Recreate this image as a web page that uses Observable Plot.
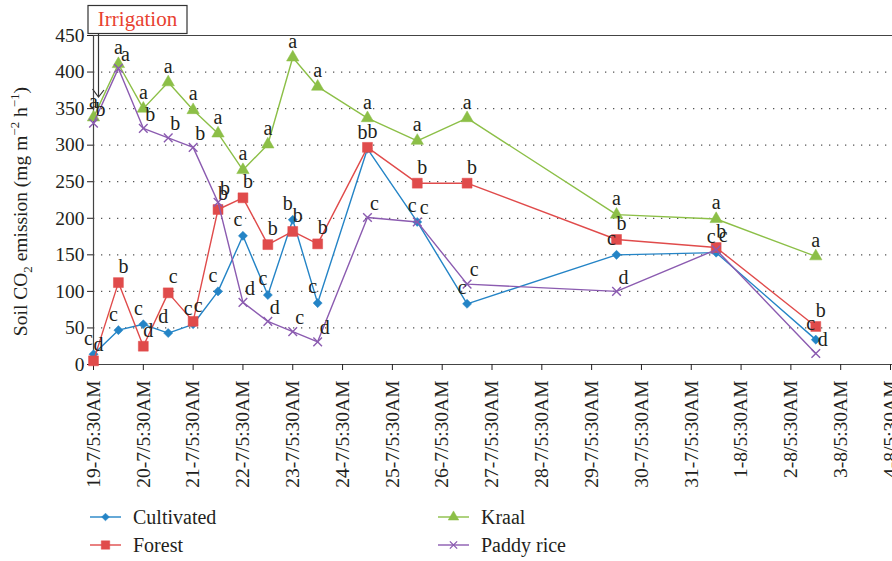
<!DOCTYPE html>
<html><head><meta charset="utf-8">
<style>
html,body{margin:0;padding:0;background:#fff;overflow:hidden;font-family:'Liberation Serif',serif;}
svg, svg text, svg tspan, .leg, .leg span {font-family:'Liberation Serif',serif !important;}
#wrap{position:relative;width:892px;height:561px;color:#231f20;}
#chart svg{display:block;}
.leg{position:absolute;display:flex;align-items:center;font-size:20px;white-space:nowrap;}
.leg svg{margin-right:12px;}
</style>
<script src="https://cdn.jsdelivr.net/npm/d3@7"></script>
<script src="https://cdn.jsdelivr.net/npm/@observablehq/plot@0.6"></script>
</head><body>
<div id="wrap"><div id="chart"></div><div id="legend"></div></div>
<script>
// ---- data ----
const tickLabels = ["19-7/5:30AM","20-7/5:30AM","21-7/5:30AM","22-7/5:30AM","23-7/5:30AM","24-7/5:30AM","25-7/5:30AM","26-7/5:30AM","27-7/5:30AM","28-7/5:30AM","29-7/5:30AM","30-7/5:30AM","31-7/5:30AM","1-8/5:30AM","2-8/5:30AM","3-8/5:30AM","4-8/5:30AM"];
const yTicks = [0,50,100,150,200,250,300,350,400,450];
const times = ["19-7/5:30AM","19-7/5:30PM","20-7/5:30AM","20-7/5:30PM","21-7/5:30AM","21-7/5:30PM","22-7/5:30AM","22-7/5:30PM","23-7/5:30AM","23-7/5:30PM","24-7/5:30PM","25-7/5:30PM","26-7/5:30PM","29-7/5:30PM","31-7/5:30PM","2-8/5:30PM"];
const seriesNames = ["Cultivated","Forest","Kraal","Paddy rice"];
const cultivated = [14, 47, 55, 43, 55, 100, 176, 95, 198, 84, 295, 195, 83, 150, 153, 34];
const forest     = [5, 112, 25, 98, 59, 212, 228, 164, 182, 165, 297, 248, 248, 171, 160, 52];
const kraal      = [338, 411, 350, 386, 348, 316, 266, 301, 420, 380, 337, 306, 337, 205, 199, 148];
const paddyRice  = [330, 405, 323, 310, 297, 222, 85, 59, 45, 31, 201, 195, 110, 100, 157, 15];
const cultivatedLetters = ["c","c","c","d","c","c","c","c","b","c","b","c","c","c","c","c"];
const forestLetters     = ["d","b","d","c","c","b","b","b","b","b","b","b","b","b","b","b"];
const kraalLetters      = ["a","a","a","a","a","a","a","a","a","a","a","a","a","a","a","a"];
const paddyRiceLetters  = ["b","a","b","b","b","b","d","d","c","d","c","c","c","d","c","d"];

// ---- styling ----
const colors = ["#2484c6","#e04b4b","#8cbf47","#8b5bb0"];
const symbols = ["diamond2","square","triangle","times"];
const radii = [4.1, 5.6, 4.6, 4];
const labelDx = [-5, 5, 0, 7];
const labelDy = [-16, -16, -16, -14];
const ink = "#231f20";
const font = "'Liberation Serif', serif";

const parse = d3.utcParse("%d-%m/%I:%M%p");
const tickDates = tickLabels.map(parse);
const labelByTime = new Map(tickDates.map((d, i) => [+d, tickLabels[i]]));
const seriesValues = [cultivated, forest, kraal, paddyRice];
const seriesLetters = [cultivatedLetters, forestLetters, kraalLetters, paddyRiceLetters];
const rows = seriesNames.map((s, k) => times.map((t, i) => ({
  series: s, time: parse(t), value: seriesValues[k][i], letter: seriesLetters[k][i]
})));

const seriesMarks = rows.flatMap((data, k) => [
  Plot.line(data, {x: "time", y: "value", stroke: colors[k], strokeWidth: 1.4}),
  Plot.dot(data, {x: "time", y: "value", symbol: symbols[k], r: radii[k],
    fill: symbols[k] === "times" ? "none" : colors[k], stroke: colors[k], strokeWidth: symbols[k] === "times" ? 1.4 : 0.5})
]);
const labelMarks = rows.map((data, k) =>
  Plot.text(data, {x: "time", y: "value", text: "letter", dy: labelDy[k], dx: labelDx[k], fill: ink, fontSize: 20})
);

const plot = Plot.plot({
  width: 892, height: 495,
  marginTop: 35, marginBottom: 131, marginLeft: 93, marginRight: 0,
  style: {fontFamily: font, fontSize: "19.5px", color: ink, background: "white", overflow: "visible"},
  x: {type: "utc", domain: [tickDates[0], tickDates[tickDates.length - 1]], range: [93, 890]},
  y: {domain: [0, 450], range: [364, 35]},
  marks: [
    Plot.ruleY(yTicks.filter(v => v > 0 && v < 450), {stroke: "#555", strokeDasharray: "1.3,6.7", strokeWidth: 1.2}),
    Plot.ruleY([450], {stroke: "#444", strokeWidth: 1.2}),
    Plot.ruleY([0], {stroke: "#444", strokeWidth: 1.2}),
    Plot.ruleX([tickDates[0]], {stroke: "#444", strokeWidth: 1.2}),
    Plot.axisY({ticks: yTicks, tickSize: 6, tickPadding: 3, label: null, fontSize: 19.5}),
    Plot.axisX({ticks: tickDates, tickFormat: d => labelByTime.get(+d), tickRotate: -90, tickSize: 6, tickPadding: 10, label: null, fontSize: 19.5}),
    ...seriesMarks,
    ...labelMarks
  ]
});
document.getElementById("chart").appendChild(plot);

// ---- annotations: y label and irrigation marker ----
const svg = d3.select(plot);
const xs = plot.scale("x"), ys = plot.scale("y");
const x0 = xs.apply(tickDates[0]);
const yl = svg.append("text")
  .attr("transform", `translate(27,${(ys.apply(0) + ys.apply(450)) / 2 + 12}) rotate(-90)`)
  .attr("text-anchor", "middle").attr("fill", ink)
  .style("font-size", "19.5px");
yl.append("tspan").text("Soil CO");
yl.append("tspan").text("2").attr("dy", 5).style("font-size", "13px");
yl.append("tspan").text(" emission (mg m").attr("dy", -5);
yl.append("tspan").text("−2").attr("dy", -8).style("font-size", "13px");
yl.append("tspan").text(" h").attr("dy", 8);
yl.append("tspan").text("−1").attr("dy", -8).style("font-size", "13px");
yl.append("tspan").text(")").attr("dy", 8);

const g = svg.append("g");
g.append("rect").attr("x", x0 - 5).attr("y", 5.5).attr("width", 99).attr("height", 28)
  .attr("fill", "white").attr("stroke", "#333").attr("stroke-width", 1.2);
g.append("text").attr("x", x0 + 44.5).attr("y", 26).attr("text-anchor", "middle")
  .attr("fill", "#e8412f").style("font-size", "21px").text("Irrigation");
g.append("line").attr("x1", x0 + 5.5).attr("x2", x0 + 5.5).attr("y1", 33.5).attr("y2", 96)
  .attr("stroke", "#333").attr("stroke-width", 1.2);
g.append("path").attr("d", `M${x0 - 0.5},89 L${x0 + 5.5},97 L${x0 + 11},90`)
  .attr("fill", "none").attr("stroke", "#333").attr("stroke-width", 1.2);

svg.attr("font-family", font);
svg.selectAll("g").attr("font-family", null);
svg.selectAll("text").attr("font-family", font).style("font-family", font);

// ---- legend ----
const legPos = [[90, 517], [90, 545], [438, 517], [438, 545]];
const leg = document.getElementById("legend");
seriesNames.forEach((s, k) => {
  const div = document.createElement("div");
  div.className = "leg";
  div.style.left = legPos[k][0] + "px";
  div.style.top = (legPos[k][1] - 13) + "px";
  div.style.height = "26px";
  div.style.fontFamily = font;
  const sw = d3.create("svg").attr("width", 31).attr("height", 14);
  sw.append("line").attr("x1", 0).attr("x2", 31).attr("y1", 7).attr("y2", 7).attr("stroke", colors[k]).attr("stroke-width", 1.4);
  const sym = {diamond2: d3.symbolDiamond2, square: d3.symbolSquare, triangle: d3.symbolTriangle, times: d3.symbolTimes}[symbols[k]];
  const size = Math.PI * (radii[k] * 0.85) ** 2;
  sw.append("path").attr("transform", "translate(15.5,7)").attr("d", d3.symbol(sym, size)())
    .attr("fill", symbols[k] === "times" ? "none" : colors[k]).attr("stroke", colors[k]).attr("stroke-width", symbols[k] === "times" ? 1.3 : 0.5);
  div.appendChild(sw.node());
  const span = document.createElement("span");
  span.textContent = s;
  div.appendChild(span);
  leg.appendChild(div);
});
</script>
</body></html>
